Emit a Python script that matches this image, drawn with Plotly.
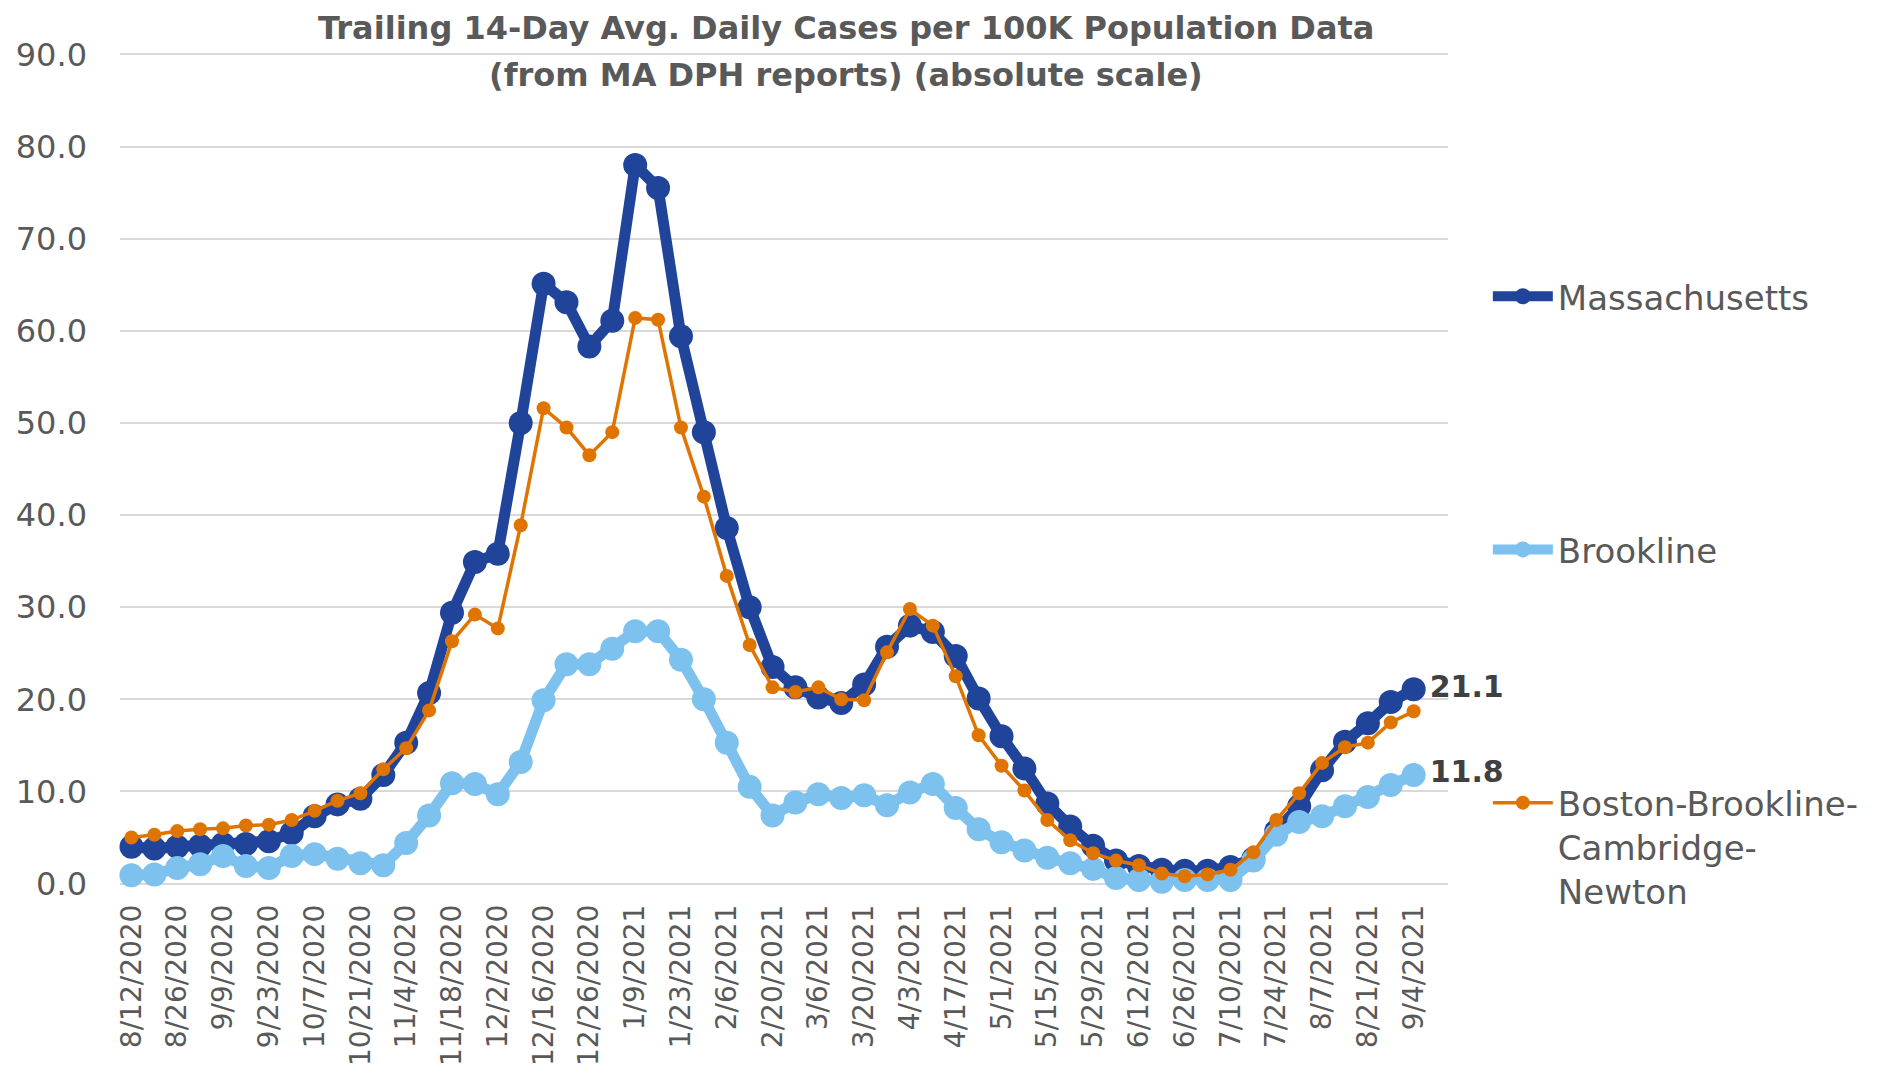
import plotly.graph_objects as go

dates = [
    "8/12/2020", "8/19/2020", "8/26/2020", "9/2/2020", "9/9/2020", "9/16/2020",
    "9/23/2020", "9/30/2020", "10/7/2020", "10/14/2020", "10/21/2020", "10/28/2020",
    "11/4/2020", "11/11/2020", "11/18/2020", "11/25/2020", "12/2/2020", "12/9/2020",
    "12/16/2020", "12/22/2020", "12/26/2020", "1/2/2021", "1/9/2021", "1/16/2021",
    "1/23/2021", "1/30/2021", "2/6/2021", "2/13/2021", "2/20/2021", "2/27/2021",
    "3/6/2021", "3/13/2021", "3/20/2021", "3/27/2021", "4/3/2021", "4/10/2021",
    "4/17/2021", "4/24/2021", "5/1/2021", "5/8/2021", "5/15/2021", "5/22/2021",
    "5/29/2021", "6/5/2021", "6/12/2021", "6/19/2021", "6/26/2021", "7/3/2021",
    "7/10/2021", "7/17/2021", "7/24/2021", "7/31/2021", "8/7/2021", "8/14/2021",
    "8/21/2021", "8/28/2021", "9/4/2021",
]
tick_labels = dates[::2]

massachusetts = [
    4.0, 3.8, 4.0, 4.1, 4.3, 4.3, 4.6, 5.5, 7.3, 8.6, 9.2, 11.8, 15.3, 20.7, 29.4,
    34.9, 35.8, 50.0, 65.1, 63.1, 58.3, 61.1, 78.0, 75.5, 59.4, 49.0, 38.6, 30.0,
    23.5, 21.3, 20.2, 19.6, 21.6, 25.7, 28.0, 27.3, 24.7, 20.1, 16.0, 12.5, 8.7,
    6.2, 4.1, 2.5, 1.9, 1.5, 1.4, 1.4, 1.8, 2.7, 5.7, 8.4, 12.3, 15.4, 17.4, 19.7,
    21.1,
]
brookline = [
    0.9, 1.0, 1.7, 2.1, 3.0, 1.9, 1.7, 3.0, 3.2, 2.7, 2.2, 2.0, 4.4, 7.4, 10.9,
    10.8, 9.7, 13.2, 19.9, 23.8, 23.8, 25.5, 27.4, 27.4, 24.3, 20.0, 15.3, 10.5,
    7.4, 8.8, 9.7, 9.3, 9.6, 8.5, 9.9, 10.8, 8.2, 5.9, 4.5, 3.6, 2.8, 2.2, 1.6,
    0.6, 0.4, 0.2, 0.4, 0.4, 0.4, 2.5, 5.3, 6.7, 7.3, 8.4, 9.4, 10.7, 11.8,
]
bbcn = [
    5.0, 5.3, 5.7, 5.9, 6.0, 6.3, 6.4, 6.9, 7.9, 9.0, 9.8, 12.4, 14.7, 18.8, 26.3,
    29.2, 27.7, 38.9, 51.6, 49.5, 46.5, 49.0, 61.4, 61.2, 49.5, 42.0, 33.4, 25.9,
    21.3, 20.8, 21.3, 20.0, 19.9, 25.1, 29.8, 28.0, 22.5, 16.1, 12.8, 10.1, 6.9,
    4.7, 3.3, 2.5, 2.0, 1.1, 0.8, 1.0, 1.5, 3.4, 6.9, 9.8, 13.1, 14.8, 15.3, 17.5,
    18.7,
]
y_ticks = [0, 10, 20, 30, 40, 50, 60, 70, 80, 90]

FONT = "DejaVu Sans"
GRAY = "#595959"


def last_label(vals):
    return [""] * (len(vals) - 1) + [f"<b>{vals[-1]:.1f}</b>"]


fig = go.Figure()
fig.add_trace(go.Scatter(
    x=dates, y=massachusetts, name="Massachusetts", legendgroup="ma",
    mode="lines+markers+text", text=last_label(massachusetts),
    textposition="middle right", cliponaxis=False,
    textfont=dict(family=FONT, size=30, color="#404040"),
    line=dict(color="#21449B", width=11),
    marker=dict(color="#21449B", size=24),
))
fig.add_trace(go.Scatter(
    x=dates, y=brookline, name="Brookline", legendgroup="br",
    mode="lines+markers+text", text=last_label(brookline),
    textposition="middle right", cliponaxis=False,
    textfont=dict(family=FONT, size=30, color="#404040"),
    line=dict(color="#7DC1EE", width=11),
    marker=dict(color="#7DC1EE", size=24),
))
fig.add_trace(go.Scatter(
    x=dates, y=bbcn, name="Boston-Brookline-<br>Cambridge-<br>Newton",
    legendgroup="bbcn", mode="lines+markers", cliponaxis=False,
    line=dict(color="#E07400", width=3.5),
    marker=dict(color="#E07400", size=14),
))

fig.add_annotation(
    text="<b>Trailing 14-Day Avg. Daily Cases per 100K Population Data</b>",
    xref="paper", yref="paper", x=0.5467, y=1.030, xanchor="center", yanchor="middle",
    showarrow=False, font=dict(family=FONT, size=32, color=GRAY),
)
fig.add_annotation(
    text="<b>(from MA DPH reports) (absolute scale)</b>",
    xref="paper", yref="paper", x=0.5467, y=0.974, xanchor="center", yanchor="middle",
    showarrow=False, font=dict(family=FONT, size=32, color=GRAY),
)

fig.update_layout(
    width=1885, height=1073,
    margin=dict(l=112, r=445, t=45, b=196, autoexpand=False),
    paper_bgcolor="white", plot_bgcolor="white",
    font=dict(family=FONT, color=GRAY),
    showlegend=True,
    legend=dict(
        x=1.030, xanchor="left", y=0.742, yanchor="top",
        font=dict(family=FONT, size=34, color=GRAY),
        tracegroupgap=206, itemwidth=60, valign="top",
        bgcolor="rgba(0,0,0,0)",
    ),
    xaxis=dict(
        type="category", range=[-0.5, len(dates) + 0.5],
        tickmode="array", tickvals=tick_labels, ticktext=tick_labels,
        tickangle=-90, tickfont=dict(family=FONT, size=28, color=GRAY),
        showgrid=False, showline=False, zeroline=False, ticks="",
        ticklabelstandoff=13, automargin=False,
    ),
    yaxis=dict(
        range=[-0.15, 90.15], tickmode="array", tickvals=y_ticks,
        ticktext=[f"{v:.1f}" for v in y_ticks],
        tickfont=dict(family=FONT, size=32, color=GRAY),
        showgrid=True, gridcolor="#D9D9D9", gridwidth=2,
        zeroline=False, showline=False, ticks="", ticklabelstandoff=32,
        automargin=False,
    ),
)

fig.write_html("out.html")
